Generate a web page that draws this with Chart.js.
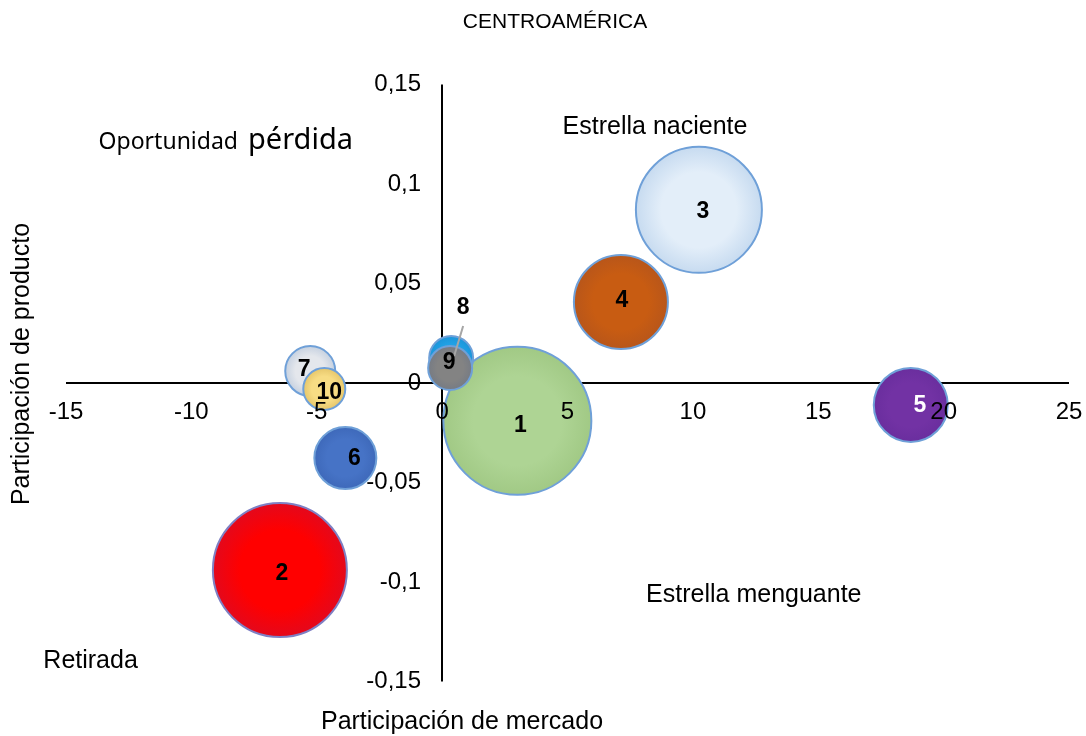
<!DOCTYPE html>
<html>
<head>
<meta charset="utf-8">
<script src="https://cdn.jsdelivr.net/npm/chart.js@4.4.0/dist/chart.umd.min.js"></script>
<style>
  html, body { margin: 0; padding: 0; background: #fff; }
  #wrap { width: 1086px; height: 736px; }
</style>
</head>
<body>
<div id="wrap"><canvas id="bubbleChart"></canvas></div>
<script>
/*
    Centroamérica - market share vs product share bubbles
*/
var productNames = ["1", "2", "3", "4", "5", "6", "7", "8", "9", "10"];
var marketShare = [3.0, -6.47, 10.24, 7.13, 18.69, -3.86, -5.26, 0.36, 0.32, -4.7];
var productShare = [-0.019, -0.094, 0.087, 0.0407, -0.011, -0.0377, 0.006, 0.0126, 0.0075, -0.003];
var bubbleSize = [74, 67, 63, 47, 37, 31, 25, 22, 22, 21];
var xTickValues = [-15, -10, -5, 0, 5, 10, 15, 20, 25];
var yTickValues = [-0.15, -0.1, -0.05, 0, 0.05, 0.1, 0.15];

/* Fill colours: centre, edge */
var fillInner = ["#AED494", "#FF0000", "#E3EEF9", "#C85C12", "#7232A4", "#4673C6", "#E4E7EC", "#21A2E6", "#838383", "#F7DC84"];
var fillOuter = ["#A1C985", "#E4081C", "#C7DBF0", "#B8561A", "#6A2E9E", "#3E69BA", "#C6D1E0", "#1C95DA", "#767B84", "#E6C66A"];
var edgeColor = ["#6FA0D8", "#7F80C4", "#6FA0D8", "#6FA0D8", "#6FA0D8", "#6FA0D8", "#6FA0D8", "#6FA0D8", "#6FA0D8", "#6FA0D8"];
var textColor = ["#000", "#000", "#000", "#000", "#fff", "#000", "#000", "#000", "#000", "#000"];
/* label nudges in pixels from bubble centre */
var labelShift = [[3, 5], [2, 4], [4, 2], [1, -1], [9, 1], [9, 1], [-6, -1], [12, -50], [-1, -5], [5, 4]];

var fontFamily = "'Liberation Sans', Arial, sans-serif";

function fmtComma(v) {
    var r = Math.round(v * 100) / 100;
    return String(r).replace('.', ',');
}

function noOverflow(scale) {
    scale.paddingLeft = 0;
    scale.paddingRight = 0;
    scale.paddingTop = 0;
    scale.paddingBottom = 0;
}

function bubbleFill(ctx) {
    var chart = ctx.chart;
    var i = ctx.dataIndex;
    if (ctx.type !== 'data' || !chart.scales.x || !chart.chartArea) {
        return fillOuter[i] || fillOuter[0];
    }
    var px = chart.scales.x.getPixelForValue(marketShare[i]);
    var py = chart.scales.y.getPixelForValue(productShare[i]);
    var r = bubbleSize[i];
    var g = chart.ctx.createRadialGradient(px, py, 0, px, py, r);
    g.addColorStop(0, fillInner[i]);
    g.addColorStop(0.6, fillInner[i]);
    g.addColorStop(1, fillOuter[i]);
    return g;
}

var textPlugin = {
    id: 'quadrantText',
    afterDatasetsDraw: function(chart) {
        var c = chart.ctx;
        var meta = chart.getDatasetMeta(0);
        c.save();
        c.textAlign = 'center';
        c.textBaseline = 'middle';
        c.font = 'bold 23px ' + fontFamily;
        meta.data.forEach(function(pt, i) {
            var lx = pt.x + labelShift[i][0];
            var ly = pt.y + labelShift[i][1];
            if (i === 7) {
                // leader line for label 8
                c.strokeStyle = '#A6A6A6';
                c.lineWidth = 2;
                c.beginPath();
                c.moveTo(lx, ly + 18);
                c.lineTo(pt.x + 3, pt.y - 2);
                c.stroke();
            }
            c.fillStyle = textColor[i];
            c.fillText(productNames[i], lx, ly);
        });
        c.restore();
    },
    afterDraw: function(chart) {
        var c = chart.ctx;
        var xs = chart.scales.x, ys = chart.scales.y;
        c.save();
        c.fillStyle = '#000';
        c.textBaseline = 'middle';
        c.textAlign = 'center';

        c.font = '21px ' + fontFamily;
        c.fillText('CENTROAMÉRICA', 555, 22);

        c.font = '25px ' + fontFamily;
        c.fillText('Estrella naciente', xs.getPixelForValue(8.49), ys.getPixelForValue(0.1286));
        c.fillText('Estrella menguante', xs.getPixelForValue(12.43), ys.getPixelForValue(-0.1065));
        c.fillText('Retirada', xs.getPixelForValue(-14.02), ys.getPixelForValue(-0.1397));
        c.fillText('Participación de mercado', 462, 722);

        c.save();
        c.translate(22, 364);
        c.rotate(-Math.PI / 2);
        c.fillText('Participación de producto', 0, 0);
        c.restore();

        c.textAlign = 'left';
        c.textBaseline = 'alphabetic';
        var ox = xs.getPixelForValue(-13.7), oy = ys.getPixelForValue(0.1175);
        c.font = '23px Noto Sans, sans-serif';
        c.fillText('Oportunidad', ox, oy);
        var w = c.measureText('Oportunidad').width;
        c.font = '29px Noto Sans, sans-serif';
        c.fillText('pérdida', ox + w + 10, oy);
        c.restore();
    }
};

var ctxB = document.getElementById("bubbleChart").getContext('2d');
var myBubbleChart = new Chart(ctxB, {
    type: 'bubble',
    data: {
        datasets: [{
            label: 'Centroamérica',
            data: marketShare.map(function(v, i) {
                return { x: v, y: productShare[i], r: bubbleSize[i] };
            }),
            backgroundColor: bubbleFill,
            borderColor: edgeColor,
            borderWidth: 2,
            hoverBorderWidth: 2
        }]
    },
    options: {
        responsive: true,
        maintainAspectRatio: false,
        animation: false,
        events: [],
        layout: {
            autoPadding: false,
            padding: { left: 66, right: 17, top: 84.5, bottom: 54.5 }
        },
        plugins: {
            legend: { display: false },
            tooltip: { enabled: false }
        },
        scales: {
            x: {
                type: 'linear',
                min: -15,
                max: 25,
                position: { y: 0 },
                afterBuildTicks: function(scale) {
                    scale.ticks = xTickValues.map(function(v) { return { value: v }; });
                },
                afterFit: noOverflow,
                border: { display: false },
                grid: {
                    drawTicks: false,
                    lineWidth: 2,
                    color: function(ctx) {
                        return ctx.tick && ctx.tick.value === 0 ? '#000' : 'rgba(0,0,0,0)';
                    }
                },
                ticks: {
                    z: 1,
                    autoSkip: false,
                    maxRotation: 0,
                    padding: 15,
                    color: '#000',
                    font: { family: fontFamily, size: 24 },
                    callback: function(v) { return fmtComma(v); }
                }
            },
            y: {
                type: 'linear',
                min: -0.15,
                max: 0.15,
                position: { x: -0.84 },
                afterBuildTicks: function(scale) {
                    scale.ticks = yTickValues.map(function(v) { return { value: v }; });
                },
                afterFit: noOverflow,
                border: { display: false },
                grid: {
                    drawTicks: false,
                    lineWidth: 2,
                    color: function(ctx) {
                        return ctx.tick && ctx.tick.value === 0 ? '#000' : 'rgba(0,0,0,0)';
                    }
                },
                ticks: {
                    z: 1,
                    autoSkip: false,
                    padding: 0,
                    color: '#000',
                    font: { family: fontFamily, size: 24 },
                    callback: function(v) { return fmtComma(v); }
                }
            }
        }
    },
    plugins: [textPlugin]
});
</script>
</body>
</html>
